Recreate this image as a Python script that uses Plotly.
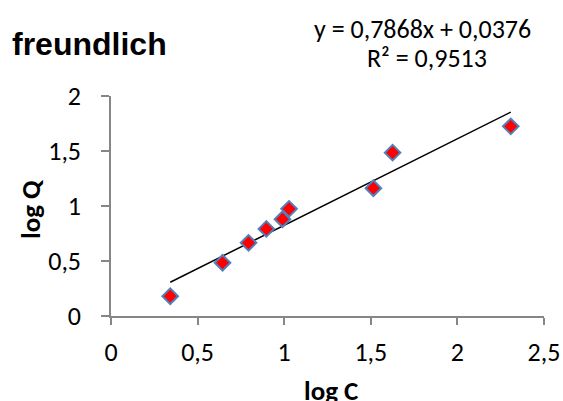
import plotly.graph_objects as go

# data
log_c = [0.342, 0.644, 0.794, 0.897, 0.990, 1.028, 1.515, 1.626, 2.308]
log_q = [0.180, 0.484, 0.665, 0.792, 0.880, 0.974, 1.162, 1.485, 1.724]
slope = 0.7868
intercept = 0.0376
r2 = 0.9513
x_ticks = [0, 0.5, 1, 1.5, 2, 2.5]
x_tick_labels = ["0", "0,5", "1", "1,5", "2", "2,5"]
y_ticks = [0, 0.5, 1, 1.5, 2]
y_tick_labels = ["0", "0,5", "1", "1,5", "2"]

x_line = [min(log_c), max(log_c)]
y_line = [slope * v + intercept for v in x_line]

FONT = "Carlito, Liberation Sans, Arial, sans-serif"
W, H = 563, 401
L, R, T, B = 111, 19, 96, 85
pw, ph = W - L - R, H - T - B


def px(xp):
    return (xp - L) / pw


def py(yp):
    return (H - B - yp) / ph


fig = go.Figure()
fig.add_trace(go.Scatter(x=x_line, y=y_line, mode="lines",
                         line=dict(color="black", width=1.5), hoverinfo="skip"))
fig.add_trace(go.Scatter(x=log_c, y=log_q, mode="markers",
                         marker=dict(symbol="diamond", size=12, color="#ff0000",
                                     line=dict(color="#4f81bd", width=2))))

axis_common = dict(showgrid=False, zeroline=False, showline=True, linecolor="#868686",
                   linewidth=1.5, ticks="outside", tickcolor="#868686", tickwidth=1.5,
                   automargin=False, tickfont=dict(size=26))

eq_text = "y = " + str(slope).replace(".", ",") + "x + " + str(intercept).replace(".", ",")
r2_text = "R² = " + str(r2).replace(".", ",")

fig.update_layout(
    width=W, height=H,
    margin=dict(l=L, r=R, t=T, b=B),
    paper_bgcolor="white", plot_bgcolor="white",
    showlegend=False,
    font=dict(family=FONT, size=26, color="black"),
    xaxis=dict(range=[0, 2.5], tickvals=x_ticks, ticktext=x_tick_labels,
               ticklen=7, ticklabelstandoff=5, **axis_common),
    yaxis=dict(range=[0, 2], tickvals=y_ticks, ticktext=y_tick_labels,
               ticklen=8, ticklabelstandoff=15, **axis_common),
    annotations=[
        dict(text="<b>freundlich</b>", x=px(10), y=py(44), xref="paper", yref="paper",
             showarrow=False, xanchor="left", yanchor="middle",
             font=dict(family="Liberation Sans, Arial", size=32)),
        dict(text=eq_text, x=px(422), y=py(29), height=28,
             xref="paper", yref="paper", showarrow=False,
             xanchor="center", yanchor="middle", font=dict(size=26)),
        dict(text=r2_text, x=px(427), y=py(58), height=28,
             xref="paper", yref="paper", showarrow=False,
             xanchor="center", yanchor="middle", font=dict(size=26)),
        dict(text="<b>log C</b>", x=px(331), y=py(390),
             xref="paper", yref="paper", showarrow=False,
             xanchor="center", yanchor="middle", font=dict(size=27)),
        dict(text="<b>log Q</b>", x=px(30), y=py(209), textangle=-90,
             xref="paper", yref="paper", showarrow=False,
             xanchor="center", yanchor="middle", font=dict(size=27)),
    ],
)

fig.write_html("out.html", config={"displayModeBar": False},
               post_script="document.body.style.margin='0';")
